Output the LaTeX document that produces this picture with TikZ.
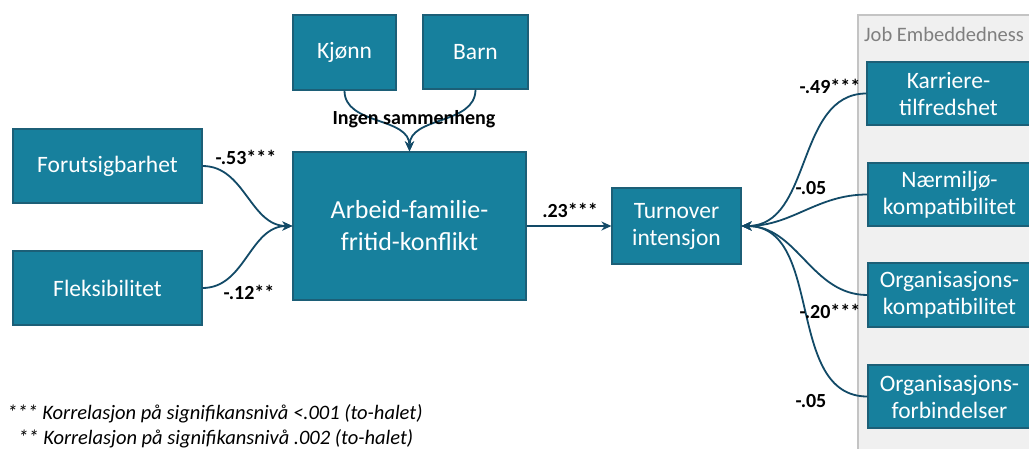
\documentclass[tikz,border=0pt]{standalone}
\usepackage{fontspec}
\setmainfont{Carlito}
\usetikzlibrary{arrows.meta}
\definecolor{boxfill}{HTML}{17809D}
\definecolor{boxline}{HTML}{1C5F77}
\definecolor{arrowc}{HTML}{124A67}
\definecolor{panelfill}{HTML}{F0F0F0}
\definecolor{panelline}{HTML}{C4C4C4}
\definecolor{paneltext}{HTML}{7F7F7F}
\tikzset{
  varbox/.style={draw=boxline, line width=1.2pt, fill=boxfill, text=white, align=center, inner sep=0pt, font=\fontsize{23.5}{27}\selectfont},
  conn/.style={draw=arrowc, line width=1.8pt, -{Stealth[length=10pt,width=9pt]}},
  coef/.style={font=\bfseries\fontsize{20}{22}\selectfont, text=black, inner sep=0pt},
  note/.style={font=\itshape\fontsize{20.5}{22}\selectfont, text=black, inner sep=0pt, anchor=west}
}
\begin{document}
\begin{tikzpicture}[x=1pt,y=-1pt]
\useasboundingbox (0,0) rectangle (1029,448);
\clip (0,0) rectangle (1029,448);
% panel
\path[draw=panelline, fill=panelfill, line width=1.2pt] (858,15) rectangle (1045,460);
\node[anchor=west, text=paneltext, font=\fontsize{20.5}{22}\selectfont, inner sep=0pt] (jt) at (864,34) {Job Embeddedness};
% boxes
\node[varbox, minimum width=103pt, minimum height=75pt] (kjonn) at (344.5,52.5) {Kjønn};
\node[varbox, minimum width=105pt, minimum height=74pt] (barn) at (475.5,52) {Barn};
\node[varbox, minimum width=233pt, minimum height=148pt, font=\fontsize{26}{32}\selectfont] (afk) at (409.5,226) {Arbeid-familie-\\fritid-konflikt};
\node[varbox, minimum width=189pt, minimum height=74pt] (foru) at (107.5,166) {Forutsigbarhet};
\node[varbox, minimum width=189pt, minimum height=74pt] (flek) at (107.5,288) {Fleksibilitet};
\node[varbox, minimum width=129pt, minimum height=76pt] (turn) at (676.5,226) {Turnover\\intensjon};
\node[varbox, minimum width=163pt, minimum height=63pt] (karr) at (948.5,93.5) {Karriere-\\tilfredshet};
\node[varbox, minimum width=163pt, minimum height=63pt] (naer) at (949.5,194.5) {Nærmiljø-\\kompatibilitet};
\node[varbox, minimum width=163pt, minimum height=64pt] (orgk) at (949.5,295) {Organisasjons-\\kompatibilitet};
\node[varbox, minimum width=163pt, minimum height=63pt] (orgf) at (949.5,396.5) {Organisasjons-\\forbindelser};
% connectors
\draw[conn] (foru.east) to[out=0,in=180] (afk.west);
\draw[conn] (flek.east) to[out=0,in=180] (afk.west);
\draw[conn] (kjonn.south) to[out=-90,in=90] (afk.north);
\draw[conn] (barn.south) to[out=-90,in=90] (afk.north);
\draw[conn] (afk.east) -- (turn.west);
\draw[conn] (karr.west) to[out=180,in=0] (turn.east);
\draw[conn] (naer.west) to[out=180,in=0] (turn.east);
\draw[conn] (orgk.west) to[out=180,in=0] (turn.east);
\draw[conn] (orgf.west) to[out=180,in=0] (turn.east);
% labels
\node[coef] (l1) at (246,157) {-.53***};
\node[coef] (l2) at (249,292) {-.12**};
\node[coef] (l3) at (414,119) {Ingen sammenheng};
\node[coef] (l4) at (570,210) {.23***};
\node[coef] (l5) at (830,86) {-.49***};
\node[coef] (l6) at (811,188) {-.05};
\node[coef] (l7) at (830,311) {-.20***};
\node[coef] (l8) at (811,401) {-.05};
% notes
\node[note] (n1) at (7,414) {*** Korrelasjon på signifikansnivå <.001 (to-halet)};
\node[note] (n2) at (18,439) {** Korrelasjon på signifikansnivå .002 (to-halet)};
\end{tikzpicture}
\end{document}
